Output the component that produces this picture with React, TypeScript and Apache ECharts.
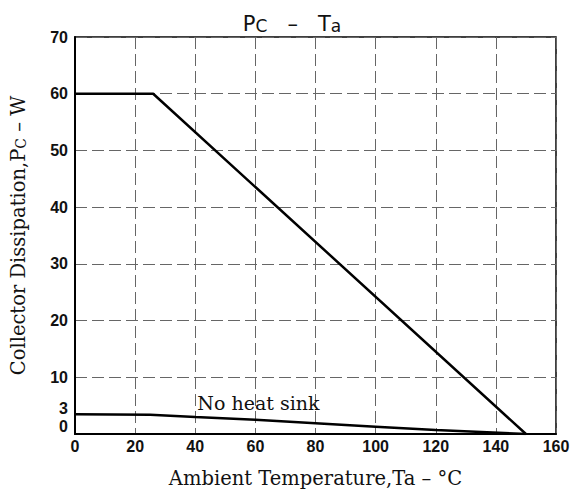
import React, { useEffect, useRef } from "react";
import * as echarts from "echarts";

const xTicks = [0, 20, 40, 60, 80, 100, 120, 140, 160];
const yExtraTicks = [0, 3];
const withSinkT = [0, 26, 150];
const withSinkP = [60, 60, 0];
const noSinkT = [0, 25, 40, 60, 80, 100, 120, 150];
const noSinkP = [3.5, 3.4, 3.0, 2.5, 1.9, 1.3, 0.7, 0];
const noteLabel = "No heat sink";
const notePos = [61, 5.4];

const tickFont = { fontFamily: "Liberation Sans", fontSize: 16, fontWeight: 600, color: "#111" };
const serif = "DejaVu Serif";
const gridLine = { show: true, lineStyle: { color: "#666", width: 1, type: [12, 5] as any } };

export default function App() {
  const ref = useRef<HTMLDivElement>(null);
  useEffect(() => {
    const chart = echarts.init(ref.current!, null, { renderer: "svg" });
    chart.setOption({
      animation: false,
      backgroundColor: "#fff",
      title: {
        text: "{b|P}{s|C}    {b|–}    {b|T}{s|a}",
        left: 287,
        textAlign: "center",
        top: 6,
        textStyle: {
          fontWeight: "normal",
          rich: {
            b: { fontFamily: "DejaVu Sans", fontSize: 21, fontWeight: "normal", color: "#111", verticalAlign: "bottom" },
            s: { fontFamily: "DejaVu Sans", fontSize: 17, fontWeight: "normal", color: "#111", verticalAlign: "bottom", padding: [6, 0, 0, 0] },
          },
        },
      },
      grid: { left: 70, right: 19, top: 37, bottom: 56, show: true, borderColor: "#000", borderWidth: 1.5, backgroundColor: "transparent" },
      xAxis: {
        type: "value",
        min: xTicks[0],
        max: xTicks[xTicks.length - 1],
        interval: 20,
        axisLine: { show: true, lineStyle: { color: "#000", width: 2 } },
        axisTick: { show: false },
        axisLabel: { ...tickFont, margin: 4 },
        splitLine: gridLine,
        name: "Ambient Temperature,Ta – °C",
        nameLocation: "middle",
        nameGap: 34,
        nameTextStyle: { fontFamily: serif, fontSize: 19.5, color: "#111" },
      },
      yAxis: [
        {
          type: "value",
          min: 0,
          max: 70,
          interval: 10,
          axisLine: { show: true, lineStyle: { color: "#000", width: 2 } },
          axisTick: { show: false },
          axisLabel: { ...tickFont, margin: 7, formatter: (v: number) => (v === 0 ? "" : String(v)) },
          splitLine: gridLine,
          name: "Collector Dissipation,P{s|C} – W",
          nameLocation: "middle",
          nameGap: 47,
          nameTextStyle: {
            fontFamily: serif,
            fontSize: 19.5,
            color: "#111",
            rich: { s: { fontFamily: serif, fontSize: 14, color: "#111", padding: [6, 0, 0, 0], verticalAlign: "bottom" } },
          },
        },
        {
          type: "value",
          min: 0,
          max: 70,
          interval: 1,
          position: "left",
          axisLine: { show: false },
          axisTick: { show: false },
          splitLine: { show: false },
          axisLabel: {
            ...tickFont,
            margin: 7,
            verticalAlign: "bottom",
            formatter: (v: number) => (yExtraTicks.includes(v) ? String(v) : ""),
          },
        },
      ],
      series: [
        {
          type: "line",
          data: withSinkT.map((t, i) => [t, withSinkP[i]]),
          showSymbol: false,
          symbol: "none",
          lineStyle: { color: "#000", width: 2.5 },
        },
        {
          type: "line",
          data: noSinkT.map((t, i) => [t, noSinkP[i]]),
          showSymbol: false,
          symbol: "none",
          lineStyle: { color: "#000", width: 2.5 },
          markPoint: {
            symbol: "circle",
            symbolSize: 0,
            data: [{ coord: notePos }],
            label: { show: true, position: "inside", formatter: noteLabel, fontFamily: serif, fontSize: 19, color: "#111" },
          },
        },
      ],
    });
    return () => chart.dispose();
  }, []);
  return <div ref={ref} style={{ width: 575, height: 493, position: "absolute", left: 0, top: 0 }} />;
}
